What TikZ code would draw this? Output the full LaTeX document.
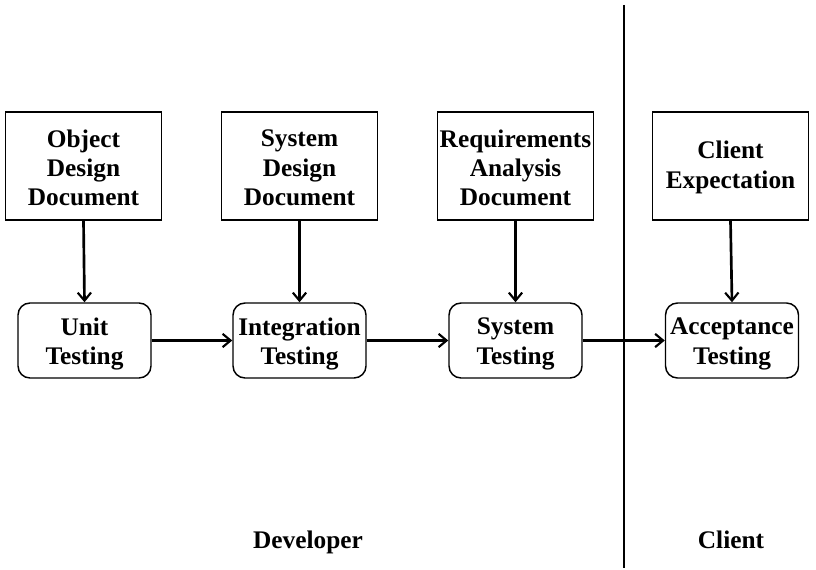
\documentclass[tikz,border=0pt]{standalone}
\usepackage{fontspec}
\setmainfont{Liberation Serif}
\usetikzlibrary{arrows.meta}
\begin{document}
\begin{tikzpicture}[x=0.75pt,y=-0.75pt,
  txt/.style={align=center,inner sep=0pt,font=\bfseries\fontsize{19}{22}\selectfont},
  doc/.style={draw,line width=1.1pt,minimum width=117pt,minimum height=81pt,inner sep=0pt},
  test/.style={draw,line width=1.1pt,rounded corners=9pt,minimum width=99.75pt,minimum height=56.25pt,inner sep=0pt},
  conn/.style={line width=2pt,-{Straight Barb[length=6pt,width=10pt,line width=1.6pt]}},
  lbl/.style={anchor=base,inner sep=0pt,font=\bfseries\fontsize{19}{22}\selectfont}]
\useasboundingbox (0,0) rectangle (816,570);
\node[doc,label={[txt,name=oddt,yshift=-1.5pt]center:Object\\Design\\Document}] (odd) at (83.5,166) {};
\node[doc,label={[txt,name=sddt,yshift=-1.5pt]center:System\\Design\\Document}] (sdd) at (299.5,166) {};
\node[doc,label={[txt,name=radt,yshift=-1.5pt]center:Requirements\\Analysis\\Document}] (rad) at (515.5,166) {};
\node[doc,label={[txt,name=cet,yshift=-1pt]center:Client\\Expectation}] (ce) at (730.5,166) {};
\node[test,label={[txt,name=utt,yshift=-2.5pt]center:Unit\\Testing}] (ut) at (84.5,340.5) {};
\node[test,label={[txt,name=itt,yshift=-2.5pt]center:Integration\\Testing}] (it) at (299.5,340.5) {};
\node[test,label={[txt,name=stt,yshift=-2.5pt]center:System\\Testing}] (st) at (515.5,340.5) {};
\node[test,label={[txt,name=att,yshift=-2.5pt]center:Acceptance\\Testing}] (at) at (732,340.5) {};
\coordinate (ltop) at (624,5);
\coordinate (lbot) at (624,568);
\draw[line width=2pt] (ltop) -- (lbot);
\draw[conn] (odd.south) -- (ut.north);
\draw[conn] (sdd.south) -- (it.north);
\draw[conn] (rad.south) -- (st.north);
\draw[conn] (ce.south) -- (at.north);
\draw[conn] (ut) -- (it);
\draw[conn] (it) -- (st);
\draw[conn] (st) -- (at);
\node[lbl] (dev) at (308,548) {Developer};
\node[lbl] (cli) at (731,548) {Client};
\end{tikzpicture}
\end{document}
